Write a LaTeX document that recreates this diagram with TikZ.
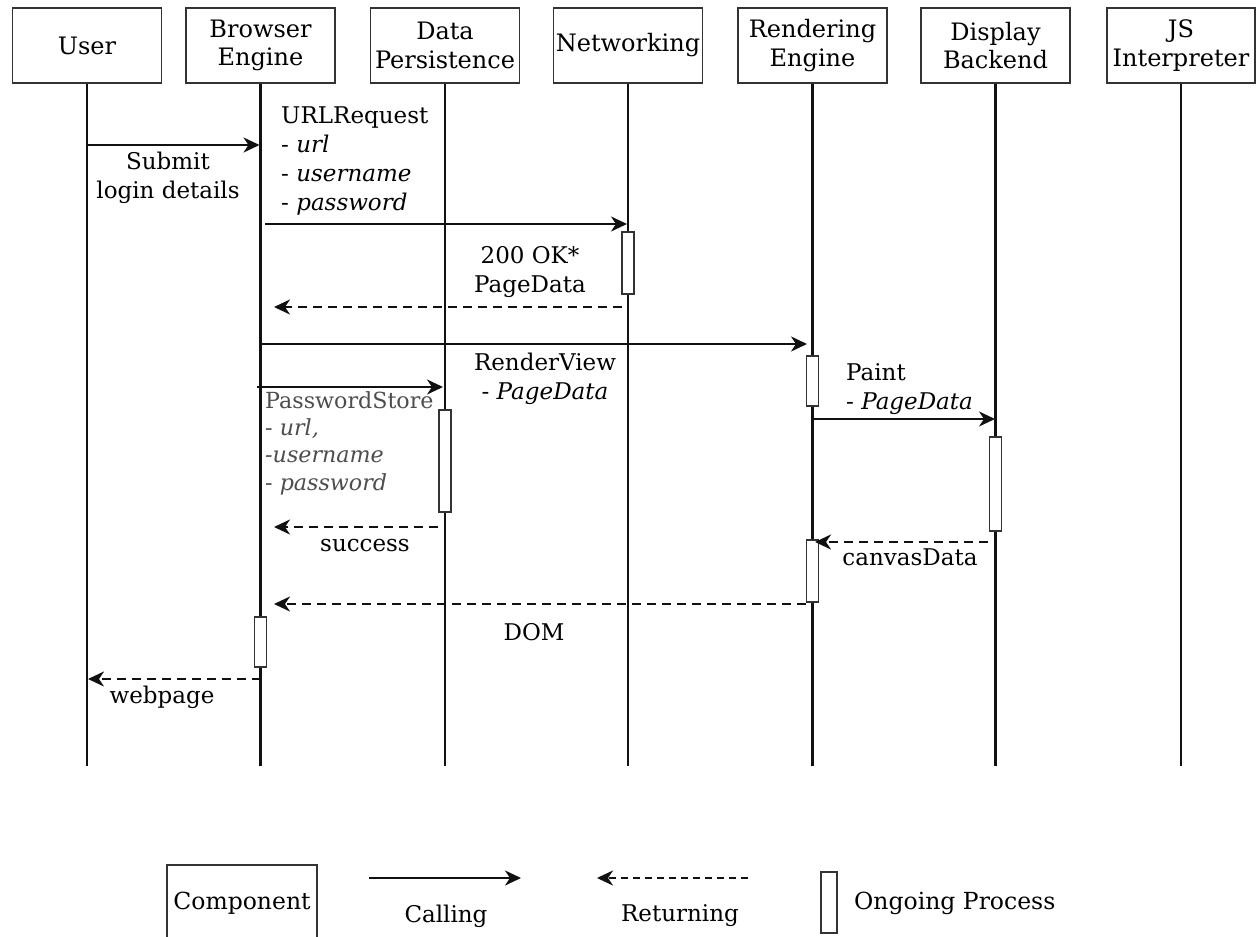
\documentclass[tikz,border=0pt]{standalone}
\usepackage{fontspec}
\setmainfont{DejaVu Serif}
\usetikzlibrary{arrows.meta}
\definecolor{ln}{HTML}{111111}
\definecolor{bx}{HTML}{333333}
\definecolor{gtxt}{HTML}{4D4D4D}
\tikzset{
 comp/.style={draw=bx, line width=1.5pt, minimum width=149pt, minimum height=75pt, inner sep=0pt, align=center, font=\fontsize{24}{28.4}\selectfont, text=black},
 life/.style={line width=2.4pt, draw=ln},
 act/.style={draw=bx, fill=white, line width=1.3pt, minimum width=12pt, inner sep=0pt},
 callarr/.style={line width=2.4pt, draw=ln, -{Stealth[length=16pt,width=15pt,inset=5pt]}},
 retarr/.style={line width=2.4pt, draw=ln, dash pattern=on 9pt off 6pt, -{Stealth[length=16pt,width=15pt,inset=5pt]}},
 lbl/.style={inner sep=0pt, font=\fontsize{23}{29}\selectfont, text=black},
}
\begin{document}
\begin{tikzpicture}[x=1pt,y=-1pt]
\useasboundingbox (0,0) rectangle (1256,937);
\clip (0,0) rectangle (1256,937);
% components
\node[comp] (hU) at (87,45.5) {User};
\node[comp] (hBE) at (260.5,45.5) {Browser\\Engine};
\node[comp] (hDP) at (445,45.5) {Data\\Persistence};
\node[comp] (hN) at (628,45.5) {Networking};
\node[comp] (hR) at (812.5,45.5) {Rendering\\Engine};
\node[comp] (hD) at (995.5,45.5) {Display\\Backend};
\node[comp, minimum width=148pt] (hJ) at (1181,45.5) {JS\\Interpreter};
% lifelines
\coordinate (eU) at (87,766);
\coordinate (eBE) at (260.5,766);
\coordinate (eDP) at (445,766);
\coordinate (eN) at (628,766);
\coordinate (eR) at (812.5,766);
\coordinate (eD) at (995.5,766);
\coordinate (eJ) at (1181,766);
\draw[life] (hU.south) -- (eU);
\draw[life] (hBE.south) -- (eBE);
\draw[life] (hDP.south) -- (eDP);
\draw[life] (hN.south) -- (eN);
\draw[life] (hR.south) -- (eR);
\draw[life] (hD.south) -- (eD);
\draw[life] (hJ.south) -- (eJ);
% activations
\node[act, minimum height=62pt] (aN) at (628,263) {};
\node[act, minimum height=50pt] (aR1) at (812.5,381) {};
\node[act, minimum height=102pt] (aDP) at (445,461) {};
\node[act, minimum height=94pt] (aD) at (995.5,484) {};
\node[act, minimum height=62pt] (aR2) at (812.5,571) {};
\node[act, minimum height=50pt] (aB) at (260.5,642) {};
% messages
\coordinate (m1s) at (87,145); \coordinate (m1e) at (259.5,145);
\draw[callarr] (m1s) -- (m1e);
\node[lbl, align=center] (t1) at (168,177.5) {Submit\\login details};
\coordinate (m2s) at (265,224); \coordinate (m2e) at (627,224);
\draw[callarr] (m2s) -- (m2e);
\node[lbl, align=left, anchor=west] (t2) at (281,161) {URLRequest\\- \textit{url}\\- \textit{username}\\- \textit{password}};
\coordinate (m3s) at (622,307); \coordinate (m3e) at (274,307);
\draw[retarr] (m3s) -- (m3e);
\node[lbl, align=center] (t3) at (530,272) {200 OK*\\PageData};
\coordinate (m4s) at (260.5,344); \coordinate (m4e) at (807,344);
\draw[callarr] (m4s) -- (m4e);
\node[lbl, align=center] (t4) at (545,379) {RenderView\\- \textit{PageData}};
\coordinate (m5s) at (257,387); \coordinate (m5e) at (443,387);
\draw[callarr] (m5s) -- (m5e);
\node[lbl, align=left, anchor=west, text=gtxt, font=\fontsize{22.2}{27.3}\selectfont] (t5) at (265,443) {PasswordStore\\- \textit{url,}\\\textit{-username}\\- \textit{password}};
\coordinate (m6s) at (812.5,419); \coordinate (m6e) at (995,419);
\draw[callarr] (m6s) -- (m6e);
\node[lbl, align=left, anchor=west] (t6) at (846,389) {Paint\\- \textit{PageData}};
\coordinate (m7s) at (438,527); \coordinate (m7e) at (274,527);
\draw[retarr] (m7s) -- (m7e);
\node[lbl] (t7) at (365,546) {success};
\coordinate (m8s) at (988,542); \coordinate (m8e) at (815,542);
\draw[retarr] (m8s) -- (m8e);
\node[lbl] (t8) at (910,557) {canvasData};
\coordinate (m9s) at (806,604); \coordinate (m9e) at (274,604);
\draw[retarr] (m9s) -- (m9e);
\node[lbl] (t9) at (534,632) {DOM};
\coordinate (m10s) at (260.5,679); \coordinate (m10e) at (88,679);
\draw[retarr] (m10s) -- (m10e);
\node[lbl] (t10) at (162,697) {webpage};
% legend
\node[comp, minimum width=150pt, minimum height=76pt, font=\fontsize{23.5}{27}\selectfont] (lc) at (242,903) {Component};
\coordinate (lcs) at (369,878); \coordinate (lce) at (521,878);
\draw[callarr] (lcs) -- (lce);
\node[lbl] (lcl) at (446,916) {Calling};
\coordinate (lrs) at (748,878); \coordinate (lre) at (597,878);
\draw[retarr, dash pattern=on 7pt off 5pt] (lrs) -- (lre);
\node[lbl] (lrl) at (680,916) {Returning};
\node[act, minimum width=16pt, minimum height=61pt] (lo) at (829,902.5) {};
\node[lbl, anchor=west, font=\fontsize{23.5}{27}\selectfont] (lol) at (854,903) {Ongoing Process};
\end{tikzpicture}
\end{document}
